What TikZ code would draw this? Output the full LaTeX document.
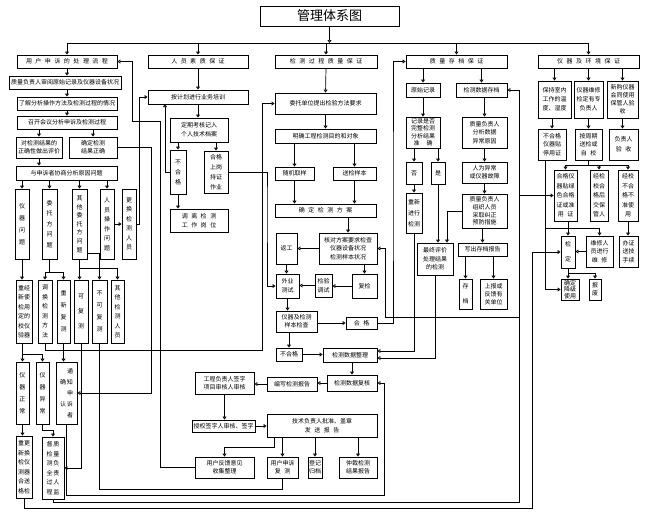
\documentclass[tikz,border=0pt]{standalone}
\usepackage{fontspec}
\newfontfamily\cjk{Noto Sans CJK SC}
\usetikzlibrary{arrows.meta}
\newcommand\gp{\hspace{3.5pt}}
\newcommand\mybox[7][]{\node[box,#1,minimum width={#5pt-#3pt},minimum height={#6pt-#4pt}] (#2) at ({(#3+#5)/2},{(#4+#6)/2}) {#7};}
\tikzset{
 box/.style={draw,line width=0.9pt,inner sep=0pt,align=center,font=\cjk\fontsize{6pt}{8pt}\selectfont},
 vsp/.style={font=\cjk\fontsize{6pt}{#1}\selectfont},
 ln/.style={line width=0.7pt},
 arr/.style={line width=0.7pt,-{Triangle[open,length=3pt,width=4pt]}},
}
\begin{document}
\begin{tikzpicture}[x=1pt,y=-1pt]
\useasboundingbox (0,0) rectangle (647,515);
\fill[white] (0,0) rectangle (647,515);
% title and level 1
\mybox[font=\cjk\fontsize{13pt}{15pt}\selectfont]{T}{260}{6}{399}{26}{管理体系图}
\mybox{A1}{17}{55}{117}{68}{用\gp 户\gp 申\gp 诉\gp 的\gp 处\gp 理\gp 流\gp 程}
\mybox{B1}{148}{55}{248}{68}{人\gp 员\gp 素\gp 质\gp 保\gp 证}
\mybox{C1}{275}{55}{377}{68}{检\gp 测\gp 过\gp 程\gp 质\gp 量\gp 保\gp 证}
\mybox{D1}{406}{55}{507}{68}{质\gp 量\gp 存\gp 档\gp 保\gp 证}
\mybox{E1}{538}{55}{639}{68}{仪\gp 器\gp 及\gp 环\gp 境\gp 保\gp 证}
% left column
\mybox{A2}{9}{76}{121}{89}{质量负责人审阅原始记录及仪器设备状况}
\mybox{A3}{17}{97}{117}{110}{了解分析操作方法及检测过程的情况}
\mybox{A4}{17}{116}{117}{129}{召开会议分析申诉及检测过程}
\mybox{A5}{16}{137}{62}{158}{对检测结果的\\正确性做出评价}
\mybox{A6}{69}{137}{117}{158}{确定检测\\结果正确}
\mybox{A7}{16}{166}{117}{180}{与申诉者协商分析原因问题}
\mybox[vsp=12pt]{V1}{15}{189}{29}{259}{仪\\器\\问\\题}
\mybox[vsp=10.5pt]{V2}{42}{189}{57}{259}{委\\托\\方\\问\\题}
\mybox[vsp=8.6pt]{V3}{72}{189}{87}{259}{其\\他\\委\\托\\方\\问\\题}
\mybox[vsp=9.5pt]{V4}{100}{189}{114}{259}{人\\员\\操\\作\\问\\题}
\mybox[vsp=9.5pt]{V5}{122}{189}{136}{259}{更\\换\\检\\测\\人\\员}
\mybox[vsp=9.5pt]{W1}{16}{280}{32}{343}{重经\\新使\\检用\\定的\\校仪\\验器}
\mybox[vsp=9.5pt]{W2}{38}{280}{52}{343}{调\\换\\检\\测\\方\\法}
\mybox[vsp=12pt]{W3}{57}{280}{70}{343}{重\\新\\复\\测}
\mybox[vsp=15pt]{W4}{74}{280}{88}{343}{可\\复\\测}
\mybox[vsp=12pt]{W5}{92}{280}{107}{343}{不\\可\\复\\测}
\mybox[vsp=9.5pt]{W6}{111}{280}{124}{343}{其\\他\\检\\测\\人\\员}
\mybox[vsp=12pt]{X1}{16}{362}{29}{424}{仪\\器\\正\\常}
\mybox[vsp=12pt]{X2}{36}{362}{49}{424}{仪\\器\\异\\常}
\mybox[vsp=11pt]{X3}{56}{362}{77}{424}{\phantom{确}\,通\\确\,知\\\phantom{确}\,申\\认\,诉\\\phantom{确}\,者}
\mybox[vsp=9.5pt]{X4}{16}{436}{32}{498}{重更\\新换\\检仪\\测器\\合送\\格检}
\mybox[vsp=9.5pt]{X5}{42}{437}{64}{499}{督\,质\\检\,量\\测\,负\\全\,责\\过\,人\\程\,监}
% person column
\mybox{B2}{148}{90}{248}{104}{按计划进行业务培训}
\mybox[vsp=9pt]{B3}{170}{118}{228}{142}{定期考核记入\\个人技术档案}
\mybox[vsp=10pt]{B4}{170}{150}{186}{194}{不\\合\\格}
\mybox[vsp=10pt]{B5}{204}{151}{228}{193}{合格\\上岗\\持证\\作业}
\mybox[vsp=9pt]{B6}{170}{209}{228}{232}{调\gp 离\gp 检\gp 测\\工\gp 作\gp 岗\gp 位}
% process column
\mybox{C2}{275}{93}{376}{114}{委托单位提出检验方法要求}
\mybox{C3}{275}{129}{376}{143}{明确工程检测目的和对象}
\mybox{C4}{275}{167}{314}{180}{随机取样}
\mybox{C5}{333}{167}{376}{180}{送检样本}
\mybox{C6}{275}{204}{376}{217}{确\gp 定\gp 检\gp 测\gp 方\gp 案}
\mybox[vsp=8.5pt]{C7}{319}{233}{377}{264}{核对方案要求检查\\仪器设备状况\\检测样本状况}
\mybox{C8}{276}{233}{297}{264}{返工}
\mybox[vsp=9pt]{C9}{276}{274}{299}{298}{外业\\测试}
\mybox[vsp=9pt]{C10}{315}{274}{332}{297}{检验\\调试}
\mybox{C11}{352}{274}{377}{298}{复检}
\mybox{C12}{276}{311}{317}{332}{仪器及检测\\样本检查}
\mybox{C13}{346}{317}{377}{329}{合\gp 格}
\mybox{C14}{276}{348}{302}{361}{不合格}
\mybox{C15}{323}{348}{377}{362}{检测数据整理}
\mybox{F1}{327}{375}{377}{391}{检测数据复核}
\mybox{F2}{267}{377}{317}{391}{编写检测报告}
\mybox{F3}{195}{372}{254}{394}{工程负责人签字\\项目审核人审核}
\mybox{F4}{192}{420}{255}{432}{授权签字人审核、签字}
\mybox[vsp=9pt]{F5}{267}{414}{377}{437}{技术负责人批准、盖章\\发\gp 送\gp 报\gp 告}
\mybox{F6}{195}{457}{254}{478}{用户反馈意见\\收集整理}
\mybox{F7}{267}{457}{298}{478}{用户申诉\\复\gp 测}
\mybox{F8}{308}{457}{322}{478}{登记\\归档}
\mybox{F9}{339}{457}{377}{478}{仲裁检测\\结果报告}
% quality column
\mybox{D2}{406}{83}{440}{97}{原始记录}
\mybox{D3}{456}{83}{507}{97}{检测数据存档}
\mybox[vsp=7.5pt]{D4}{406}{117}{440}{148}{记录是否\\完整检测\\分析结果\\准\gp\gp 确}
\mybox{D5}{406}{162}{422}{184}{否}
\mybox{D6}{431}{162}{445}{184}{是}
\mybox[vsp=11pt]{D7}{406}{193}{422}{233}{重新\\进行\\检测}
\mybox[vsp=8.5pt]{D8}{462}{117}{507}{148}{质量负责人\\分析数据\\异常原因}
\mybox{D9}{462}{162}{507}{183}{人为异常\\或仪器故障}
\mybox[vsp=7.8pt]{D10}{462}{194}{507}{228}{质量负责人\\组织人员\\采取纠正\\预防措施}
\mybox[vsp=8.5pt]{D11}{417}{243}{453}{275}{最终评价\\处理结果\\的检测}
\mybox{D12}{458}{243}{507}{256}{写出存档报告}
\mybox[vsp=15pt]{D13}{459}{279}{472}{309}{存\\档}
\mybox[vsp=8pt]{D14}{480}{279}{507}{309}{上报或\\反馈有\\关单位}
% instrument column
\mybox[vsp=9pt]{E2}{538}{81}{571}{118}{保持室内\\工作的温\\度、湿度}
\mybox[vsp=9pt]{E3}{574}{81}{603}{118}{仪器维修\\检定有专\\负责人}
\mybox[vsp=8pt]{E4}{607}{81}{638}{118}{新购仪器\\会同使用\\保管人验\\收}
\mybox[vsp=8.5pt]{E5}{538}{129}{566}{160}{不合格\\仪器贴\\停用证}
\mybox[vsp=8.5pt]{E6}{575}{129}{602}{160}{按周期\\送检或\\自\gp 校}
\mybox[vsp=10pt]{E7}{609}{129}{638}{160}{负责人\\验\gp 收}
\mybox[vsp=9.5pt]{E8}{554}{170}{577}{221}{合格仪\\器贴绿\\色合格\\证或准\\用\gp 证}
\mybox[vsp=9.5pt]{E9}{590}{170}{608}{221}{经检\\校合\\格后\\交保\\管人}
\mybox[vsp=9.5pt]{E10}{618}{170}{638}{221}{经校\\不合\\格不\\准使\\用}
\mybox[vsp=8.5pt]{E11}{619}{236}{638}{267}{办证\\送技\\手续}
\mybox[vsp=15pt]{E12}{561}{236}{575}{268}{检\\定}
\mybox[vsp=8.5pt]{E13}{586}{236}{613}{267}{维修人\\员进行\\维\gp 修}
\mybox[vsp=6.5pt]{E14}{561}{279}{579}{300}{确定\\降级\\使用}
\mybox{E15}{589}{279}{601}{300}{报\\废}
% ---------- connectors ----------
\coordinate (bus) at (325,43);
\draw[arr] (T.south) -- (T.south |- bus);
\draw[ln] (A1.north |- bus) -- (E1.north |- bus);
\foreach \n in {A1,B1,C1,D1,E1} \draw[arr] (\n.north |- bus) -- (\n.north);
% left
\draw[arr] (A1.south) -- (A1.south |- A2.north);
\draw[arr] (A2.south -| A3.north) -- (A3.north);
\draw[arr] (A3.south) -- (A4.north);
\draw[arr] (A4.south -| A5.north) -- (A5.north);
\draw[arr] (A4.south -| A6.north) -- (A6.north);
\draw[arr] (A5.south) -- (A5.south |- A7.north);
\foreach \n in {V1,V2,V3,V4} \draw[arr] (A7.south -| \n.north) -- (\n.north);
\draw[arr] (V4.east) -- (V5.west);
\coordinate (kA) at (139,97);
\draw[arr] (V5.east) -| (kA) -- (B2.west);
\coordinate (kB) at (151,393);
\draw[arr] (A6.east) -| (kB) -- (X3.east);
\coordinate (kC1) at (160,121);
\coordinate (kC2) at (132,121);
\draw[arr] (F6.west) -| (kC1) -- (kC2) |- (A1.east);
\draw[arr] (V1.south) -- (V1.south |- W1.north);
\coordinate (kD) at (49.5,272);
\draw[ln] (V2.south) -- (kD);
\draw[arr] (kD) -| (W2.north);
\draw[arr] (kD) -| (W3.north);
\draw[arr] (V3.south) -- (V3.south |- W4.north);
\draw[arr] ([yshift=6pt]V3.south east) -| (W5.north);
\coordinate (kF) at (79.5,268);
\draw[arr] (kF) -| (W6.north);
\coordinate (kG) at (22.5,354);
\draw[arr] (W1.south -| X1.north) -- (X1.north);
\draw[arr] (kG) -| (X2.north);
\coordinate (kH) at (262,350);
\draw[arr] (W2.south) |- (kH) |- (C2.west);
\draw[arr] (W3.south) -- (W3.south |- X3.north);
\draw[arr] (W4.south) |- (X5.east);
\coordinate (kI) at (282.5,489);
\draw[ln] (W5.south) |- (kI) -- (F7.south);
\draw[arr] (X1.south) -- (X1.south |- X4.north);
\coordinate (kJ) at (53,430);
\draw[arr] (X2.south) |- (kJ) -- (X5.north);
\coordinate (kK) at (384,495);
\draw[arr] (X3.south) |- (kK) |- (F1.east);
\coordinate (kL) at (519,502);
\draw[arr] (X5.south) |- (kL) |- (D3.east);
\coordinate (kM) at (519,317);
\coordinate (kN) at (385,317);
\draw[arr] (kM) -- (kN) |- (C7.east);
\coordinate (kO) at (519,195.5);
\draw[arr] (kO) -- (E8.west);
\coordinate (kP) at (532,508);
\draw[arr] (X4.south) |- (kP) |- (E12.west);
% person
\draw[arr] (B1.south) -- (B2.north);
\draw[arr] (B2.south) -- (B2.south |- B3.north);
\draw[arr] (B3.south -| B4.north) -- (B4.north);
\draw[arr] (B3.south -| B5.north) -- (B5.north);
\draw[arr] (B4.south) -- (B4.south |- B6.north);
\coordinate (kQ) at (165,104);
\draw[arr] (B4.west) -| (kQ);
\coordinate (kR) at (267,200);
\draw[arr] (B5.east) -| (kR) |- (C9.west);
% process
\draw[arr] (C1.south) -- (C2.north);
\draw[arr] (C2.south) -- (C3.north);
\draw[arr] (C3.south -| C4.north) -- (C4.north);
\draw[arr] (C3.south -| C5.north) -- (C5.north);
\draw[arr] (C4.south) -- (C4.south |- C6.north);
\draw[arr] (C5.south) -- (C5.south |- C6.north);
\draw[arr] (C6.south -| C7.north) -- (C7.north);
\draw[arr] (C7.west) -- (C8.east);
\draw[arr] (C7.south -| C11.north) -- (C11.north);
\draw[arr] (C8.south) -- (C8.south |- C9.north);
\draw[arr] (C11.west) -- (C11.west -| C10.east);
\draw[arr] (C10.west) -- (C10.west -| C9.east);
\draw[arr] (C9.south) -- (C9.south |- C12.north);
\draw[arr] (C12.east |- C13.west) -- (C13.west);
\draw[arr] (C12.south -| C14.north) -- (C14.north);
\draw[arr] (C14.east) -- (C14.east -| C15.west);
\coordinate (kS) at (393,200);
\draw[arr] (C13.east) -| (kS) |- (D1.west);
\draw[arr] (C15.south -| F1.north) -- (F1.north);
\draw[arr] (F1.west) -- (F1.west -| F2.east);
\draw[arr] (F2.west) -- (F2.west -| F3.east);
\draw[arr] (F3.south) -- (F3.south |- F4.north);
\draw[arr] (F4.east) -- (F4.east -| F5.west);
\draw[arr] ([xshift=-48pt]F5.south) -- ++(0,10) -| (F6.north);
\draw[arr] (F5.south -| F7.north) -- (F7.north);
\draw[arr] (F5.south -| F8.north) -- (F8.north);
\draw[arr] (F5.south -| F9.north) -- (F9.north);
% quality
\draw[arr] (D1.south -| D2.north) -- (D2.north);
\draw[arr] (D1.south -| D3.north) -- (D3.north);
\draw[arr] (D2.south) -- (D4.north);
\draw[arr] (D4.south -| D5.north) -- (D5.north);
\draw[arr] (D4.south -| D6.north) -- (D6.north);
\draw[arr] (D5.south) -- (D7.north);
\draw[arr] (D6.south) -- (D6.south |- D11.north);
\draw[arr] (D3.south -| D8.north) -- (D8.north);
\draw[arr] (D8.south) -- (D9.north);
\draw[arr] (D9.south) -- (D10.north);
\draw[arr] (D10.south -| D12.north) -- (D12.north);
\draw[arr] (D12.south -| D13.north) -- (D13.north);
\draw[arr] (D12.south -| D14.north) -- (D14.north);
\draw[arr] (D10.west) -| ([xshift=12pt]D11.north);
\draw[arr] (D7.south) |- ([yshift=4pt]C15.east);
\draw[arr] (D11.south) |- ([yshift=-3pt]C15.east);
% instruments
\foreach \n in {E2,E3,E4} \draw[arr] (E1.south -| \n.north) -- (\n.north);
\draw[arr] (E5.north |- E2.south) -- (E5.north);
\draw[arr] (E3.south) -- (E3.south |- E6.north);
\draw[arr] (E4.south) -- (E4.south |- E7.north);
\coordinate (kV) at (588.5,165);
\draw[ln] (E6.south) -- (kV);
\foreach \n in {E8,E9,E10} \draw[arr] (kV) -| (\n.north);
\draw[arr] (E10.south) -- (E10.south |- E11.north);
\draw[arr] (E12.north |- E8.south) -- (E12.north);
\draw[arr] ([xshift=-7pt]E5.south) |- (E14.west);
\coordinate (kW) at (545,228);
\draw[arr] (kW) -| (E13.north);
\draw[arr] (E13.west) -- (E13.west -| E12.east);
\draw[arr] (E12.south) -- (E12.south |- E14.north);
\coordinate (kX) at (568,273);
\draw[arr] (kX) -| (E15.north);
\end{tikzpicture}
\end{document}
